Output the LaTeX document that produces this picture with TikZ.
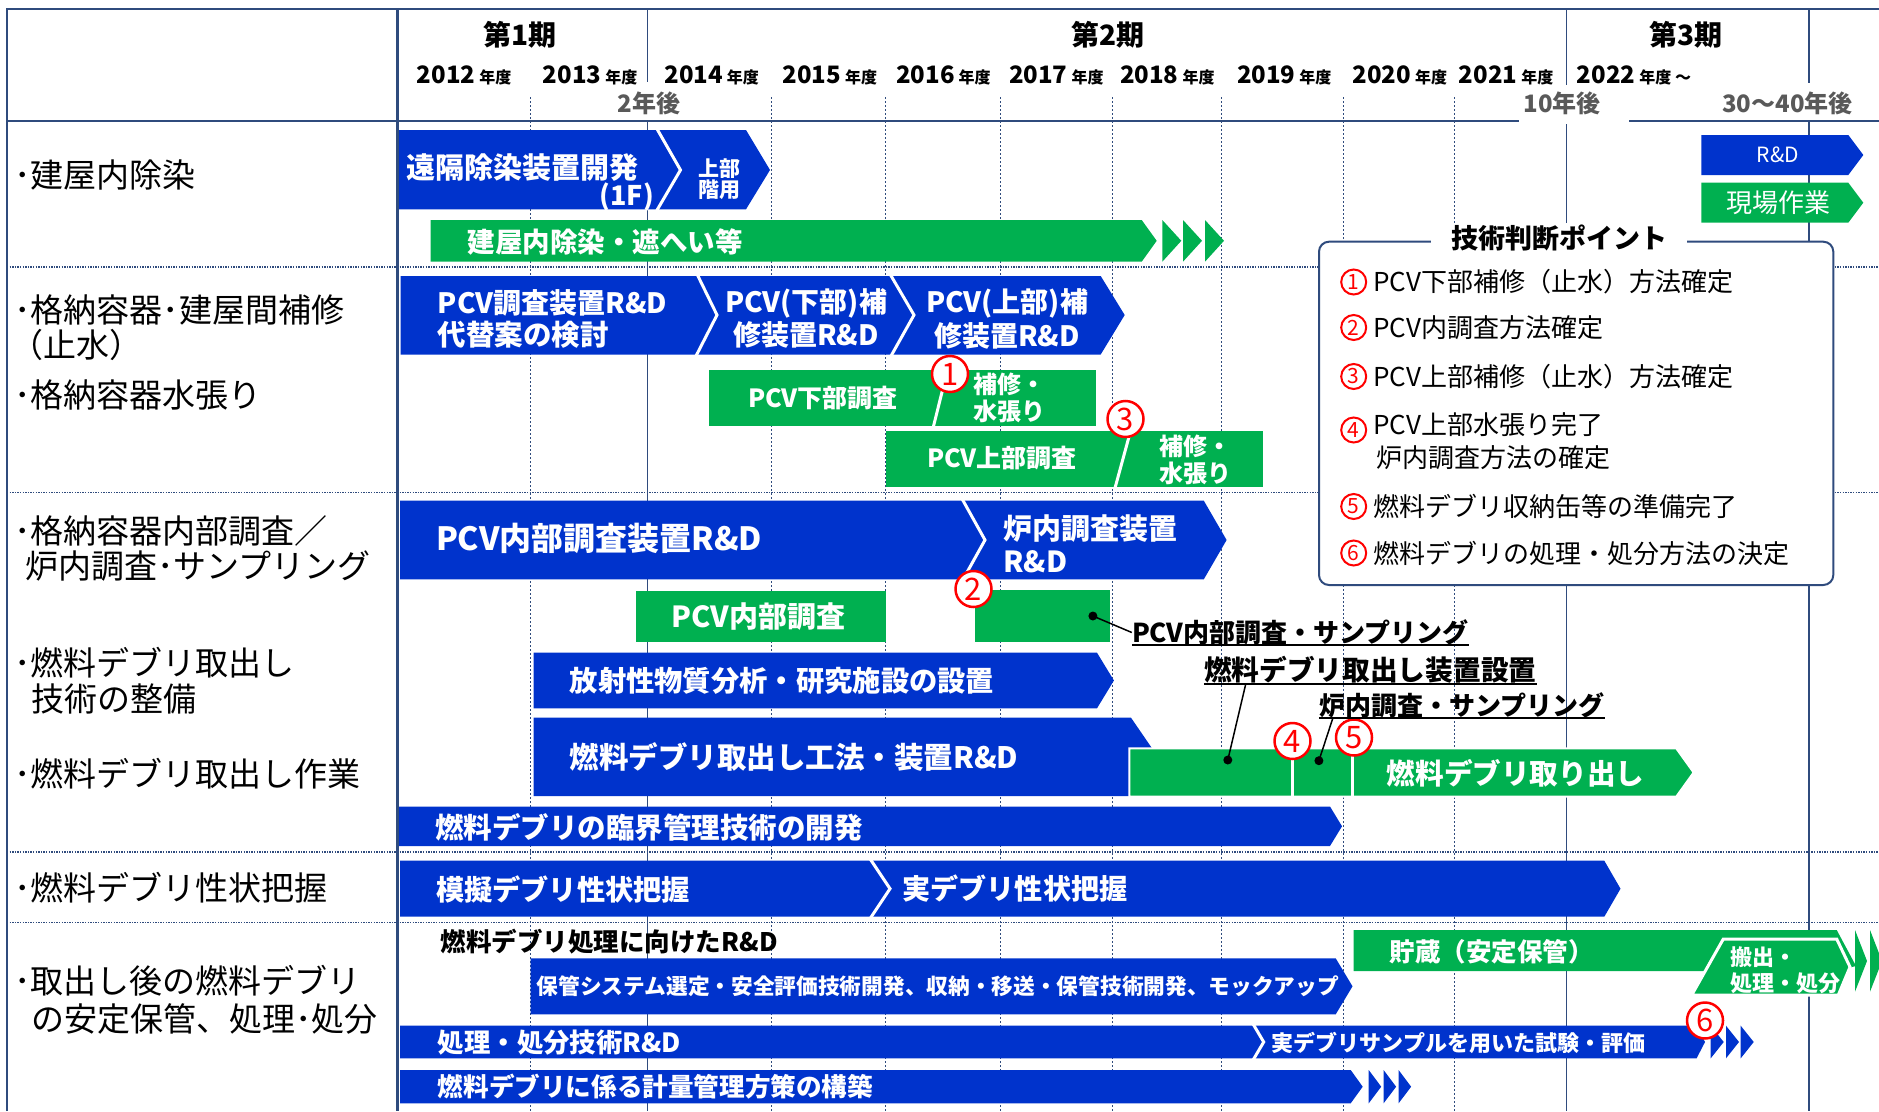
\documentclass[tikz,border=0pt]{standalone}
\usepackage{fontspec}
\setmainfont{Noto Sans CJK JP}
\usetikzlibrary{calc}
\definecolor{cblue}{RGB}{0,51,204}
\definecolor{cgreen}{RGB}{0,176,80}
\definecolor{cframe}{RGB}{47,75,125}
\definecolor{cgray}{RGB}{89,89,89}
\definecolor{cred}{RGB}{255,0,0}
\newcommand\fsz[1]{\fontsize{#1}{#1}\selectfont}
\begin{document}
\begin{tikzpicture}[x=1pt,y=-1pt,
  frame/.style={draw=cframe,line width=2.2pt},
  perline/.style={draw=cframe,line width=1.8pt},
  rowline/.style={draw=cframe,line width=1.3pt,dash pattern=on 1.3pt off 1.3pt},
  gridline/.style={draw=cframe,line width=1pt,dash pattern=on 2pt off 2pt},
  bb/.style={fill=cblue},
  gg/.style={fill=cgreen},
  sepw/.style={draw=white,line width=3pt},
  wt/.style={text=white,inner sep=0pt,font=\bfseries\fsz{#1}},
  wr/.style={text=white,inner sep=0pt,font=\fsz{#1}},
  bt/.style={text=black,inner sep=0pt,font=\bfseries\fsz{#1}},
  lab/.style={text=black,inner sep=0pt,anchor=west,font=\fsz{33}},
  lst/.style={text=black,inner sep=0pt,anchor=west,font=\fsz{26}},
  yr/.style={inner sep=0pt,anchor=west,font=\bfseries},
  per/.style={inner sep=0pt,font=\bfseries\fsz{28}},
  aft/.style={inner sep=0pt,text=cgray,font=\bfseries\fsz{24}},
  circ/.style={circle,draw=cred,line width=2.5pt,fill=white,minimum size=36pt,inner sep=0pt,text=cred,font=\fsz{31}},
  lc/.style={circle,draw=cred,line width=2pt,fill=white,minimum size=25pt,inner sep=0pt,text=cred,font=\fsz{21}},
  lead/.style={draw=black,line width=1.5pt},
  uline/.style={draw=black,line width=2pt},
  dot/.style={fill=black}
]
\useasboundingbox (0,0) rectangle (1879,1111);
% ---------- grid ----------
\foreach \x in {530.6,771.6,885.5,1000,1112.7,1221.8,1343.5,1454.4}
  \draw[gridline] (\x,97) -- (\x,1111);
\foreach \y in {267,492.5,852,922.5}
  \draw[rowline] (7,\y) -- (1879,\y);
\draw[frame] (7,1111) -- (7,9) -- (1879,9);
\draw[frame] (397.5,9) -- (397.5,1111);
\foreach \x in {647.5,1566.5,1809.3}
  \draw[perline] (\x,9) -- (\x,1111);
% header labels
\fill[white] (612,82) rectangle (686,119.6);
\fill[white] (1712,83) rectangle (1864,119.6);
\draw[frame] (7,121) -- (1879,121);
\fill[white] (1518.5,85) rectangle (1629,124);
\node[aft] (a2) at (649,103) {2年後};
\node[aft] (a10) at (1562,103) {10年後};
\node[aft] (a30) at (1787.5,103) {30～40年後};
\node[per] (p1) at (520,35) {第1期};
\node[per] (p2) at (1108,35) {第2期};
\node[per] (p3) at (1686,35) {第3期};
\node[yr] (y12) at (416.7,75) {\fsz{24}2012\,\fsz{16}年度};
\node[yr] (y13) at (542.6,75) {\fsz{24}2013\,\fsz{16}年度};
\node[yr] (y14) at (664.3,75) {\fsz{24}2014\,\fsz{16}年度};
\node[yr] (y15) at (782.4,75) {\fsz{24}2015\,\fsz{16}年度};
\node[yr] (y16) at (896,75) {\fsz{24}2016\,\fsz{16}年度};
\node[yr] (y17) at (1008.9,75) {\fsz{24}2017\,\fsz{16}年度};
\node[yr] (y18) at (1119.9,75) {\fsz{24}2018\,\fsz{16}年度};
\node[yr] (y19) at (1236.8,75) {\fsz{24}2019\,\fsz{16}年度};
\node[yr] (y20) at (1352.5,75) {\fsz{24}2020\,\fsz{16}年度};
\node[yr] (y21) at (1458.6,75) {\fsz{24}2021\,\fsz{16}年度};
\node[yr] (y22) at (1576.7,75) {\fsz{24}2022\,\fsz{16}年度 ～};
% ---------- left column ----------
\node[lab] (l1) at (14,175) {･建屋内除染};
\node[lab] (l2) at (14,310) {･格納容器･建屋間補修};
\node[lab] (l2b) at (10,345) {（止水）};
\node[lab] (l3) at (14,395) {･格納容器水張り};
\node[lab] (l4) at (14,531) {･格納容器内部調査／};
\node[lab] (l4b) at (25,566) {炉内調査･サンプリング};
\node[lab] (l5) at (14,663) {･燃料デブリ取出し};
\node[lab] (l5b) at (31,699) {技術の整備};
\node[lab] (l6) at (14,774) {･燃料デブリ取出し作業};
\node[lab] (l7) at (14,888) {･燃料デブリ性状把握};
\node[lab] (l8) at (14,981) {･取出し後の燃料デブリ};
\node[lab] (l8b) at (31,1019) {の安定保管、処理･処分};
% ---------- row 1 ----------
\fill[bb] (399,130) -- (746,130) -- (770,170) -- (746,209.3) -- (399,209.3) -- cycle;
\draw[sepw] (656.5,128) -- (680.5,170) -- (656.5,211);
\node[wt=29,anchor=west] (t1) at (406,168) {遠隔除染装置開発};
\node[wt=27,anchor=east] (t1b) at (654,197) {(1F)};
\node[wt=21] (t2) at (719,169) {上部};
\node[wt=21] (t2b) at (719,190) {階用};
\fill[gg] (430.5,220) -- (1141.7,220) -- (1156.7,240.8) -- (1141.7,261.7) -- (430.5,261.7) -- cycle;
\foreach \a in {1162.3,1183,1205}
  \fill[gg] (\a,220) -- (\a+19,240.8) -- (\a,261.7) -- cycle;
\node[wt=27.5,anchor=west] (t3) at (467.6,241.7) {建屋内除染・遮へい等};
% legend
\fill[bb] (1701.4,135) -- (1848.3,135) -- (1863.3,155) -- (1848.3,175) -- (1701.4,175) -- cycle;
\node[wr=21] (r1) at (1778,155) {R\&D};
\fill[gg] (1701.4,182.7) -- (1848.3,182.7) -- (1863.3,202.7) -- (1848.3,222.7) -- (1701.4,222.7) -- cycle;
\node[wr=26] (r2) at (1778,203) {現場作業};
% ---------- judgement box ----------
\draw[draw=cframe,line width=2pt,fill=white,rounded corners=10pt] (1319,241.7) rectangle (1833.3,585);
\node[bt=27,fill=white,inner xsep=20pt,inner ysep=2pt] (jt) at (1559,238) {技術判断ポイント};
\node[lc] (k1) at (1353.7,282) {1};
\node[lst] (k1t) at (1373,282) {PCV下部補修（止水）方法確定};
\node[lc] (k2) at (1353.7,327.5) {2};
\node[lst] (k2t) at (1373,327.5) {PCV内調査方法確定};
\node[lc] (k3) at (1353.7,376.5) {3};
\node[lst] (k3t) at (1373,376.5) {PCV上部補修（止水）方法確定};
\node[lc] (k4) at (1353.7,430) {4};
\node[lst] (k4t) at (1373,425) {PCV上部水張り完了};
\node[lst] (k4b) at (1376,458) {炉内調査方法の確定};
\node[lc] (k5) at (1353.7,506.5) {5};
\node[lst] (k5t) at (1373,506.5) {燃料デブリ収納缶等の準備完了};
\node[lc] (k6) at (1353.7,553) {6};
\node[lst] (k6t) at (1373,553) {燃料デブリの処理・処分方法の決定};
% ---------- row 2 ----------
\fill[bb] (400.5,276) -- (1100.7,276) -- (1124.7,315) -- (1100.7,354.5) -- (400.5,354.5) -- cycle;
\draw[sepw] (697,274) -- (717,315) -- (696,356);
\draw[sepw] (890,274) -- (914,315) -- (891,356);
\node[wt=28,anchor=west] (t4) at (437.6,303) {PCV調査装置R\&D};
\node[wt=28.5,anchor=west] (t4b) at (437.6,335) {代替案の検討};
\node[wt=28] (t5) at (806,303) {PCV(下部)補};
\node[wt=28] (t5b) at (806,335) {修装置R\&D};
\node[wt=28] (t6) at (1007,303) {PCV(上部)補};
\node[wt=28] (t6b) at (1007,336) {修装置R\&D};
\fill[gg] (709.2,369.5) rectangle (1096,425.5);
\draw[sepw] (947,372) -- (933.3,427);
\node[wt=25] (t7) at (823,398) {PCV下部調査};
\node[wt=24,anchor=west] (t7a) at (973,384) {補修・};
\node[wt=24,anchor=west] (t7b) at (973,411.7) {水張り};
\fill[gg] (886,430.7) rectangle (1262.5,486.7);
\draw[sepw] (1130,433) -- (1115,488);
\node[wt=25] (t8) at (1002,458.5) {PCV上部調査};
\node[wt=24,anchor=west] (t8a) at (1158.8,446.7) {補修・};
\node[wt=24,anchor=west] (t8b) at (1158.8,473.3) {水張り};
\node[circ] (c1) at (950,374) {1};
\node[circ] (c3) at (1125.5,419) {3};
% ---------- row 3 ----------
\fill[bb] (400,500.7) -- (1203.8,500.7) -- (1226.6,540) -- (1203.8,579.3) -- (400,579.3) -- cycle;
\draw[sepw] (962,498.7) -- (985,540) -- (962,581.3);
\node[wt=32,anchor=west] (t9) at (435.8,538) {PCV内部調査装置R\&D};
\node[wt=29,anchor=west] (t10) at (1003,528.3) {炉内調査装置};
\node[wt=29,anchor=west] (t10b) at (1003,561.7) {R\&D};
\fill[gg] (635.5,591) rectangle (885.5,641.7);
\node[wt=29] (t11) at (758.4,616.7) {PCV内部調査};
\fill[gg] (974.8,590) rectangle (1109.7,641.7);
\node[circ] (c2) at (973.5,589) {2};
\coordinate (d1) at (1092.9,616);
\fill[dot] (d1) circle (4.5);
\node[bt=26,anchor=west] (u1) at (1131.8,632.5) {PCV内部調査・サンプリング};
\draw[uline] (u1.south west) -- (u1.south east);
\draw[lead] (d1) -- (u1.west);
\fill[bb] (533.6,652.7) -- (1097,652.7) -- (1113.9,680.5) -- (1097,708.3) -- (533.6,708.3) -- cycle;
\node[wt=28.3,anchor=west] (t12) at (569.5,680.5) {放射性物質分析・研究施設の設置};
\fill[bb] (533.6,717.7) -- (1131,717.7) -- (1158,757) -- (1131,796) -- (533.6,796) -- cycle;
\node[wt=29.5,anchor=west] (t13) at (569.5,756.7) {燃料デブリ取出し工法・装置R\&D};
\filldraw[gg,draw=white,line width=2pt] (1129.4,748.3) -- (1676.2,748.3) -- (1693.6,772.5) -- (1676.2,796.7) -- (1129.4,796.7) -- cycle;
\draw[sepw] (1292.5,748) -- (1292.5,797);
\draw[sepw] (1352.5,748) -- (1352.5,797);
\node[wt=28.6,anchor=west] (t14) at (1386.6,773.3) {燃料デブリ取り出し};
\node[circ] (c4) at (1292.5,741) {4};
\node[circ] (c5) at (1354,737.5) {5};
\coordinate (d2) at (1227.8,760);
\coordinate (d3) at (1318.9,760.7);
\fill[dot] (d2) circle (4.5);
\fill[dot] (d3) circle (4.5);
\node[bt=27.7,anchor=west] (u2) at (1203.8,670) {燃料デブリ取出し装置設置};
\draw[uline] (u2.south west) -- (u2.south east);
\draw[lead] (d2) -- ($(u2.south west)+(42,0)$);
\node[bt=26,anchor=west] (u3) at (1318.9,705) {炉内調査・サンプリング};
\draw[uline] (u3.south west) -- (u3.south east);
\draw[lead] (d3) -- ($(u3.south west)+(14,0)$);
\fill[bb] (399,806.5) -- (1330,806.5) -- (1342,826.3) -- (1330,846) -- (399,846) -- cycle;
\node[wt=28.5,anchor=west] (t15) at (435,827) {燃料デブリの臨界管理技術の開発};
% ---------- row 4 ----------
\fill[bb] (400,860.7) -- (1604.3,860.7) -- (1620.5,888.7) -- (1604.3,916.7) -- (400,916.7) -- cycle;
\draw[sepw] (870,858.7) -- (890,888.7) -- (870,918.7);
\node[wt=28.2,anchor=west] (t16) at (435.8,889) {模擬デブリ性状把握};
\node[wt=28.1,anchor=west] (t17) at (902.3,889) {実デブリ性状把握};
% ---------- row 5 ----------
\node[bt=25.5,anchor=west] (t18) at (440.6,941.7) {燃料デブリ処理に向けたR\&D};
\fill[bb] (530.6,958.3) -- (1335.7,958.3) -- (1352.5,986.3) -- (1335.7,1014.3) -- (530.6,1014.3) -- cycle;
\node[wt=21.7,anchor=west] (t19) at (536.6,986.7) {保管システム選定・安全評価技術開発、収納・移送・保管技術開発、モックアップ};
\fill[gg] (1353.7,930) -- (1836.7,930) -- (1856,966) -- (1836.7,971) -- (1353.7,971) -- cycle;
\filldraw[gg,draw=white,line width=3pt] (1723.3,939) -- (1836.7,939) -- (1850,967) -- (1838.3,995) -- (1691.7,995) -- cycle;
\foreach \a in {1855,1870}
  \fill[gg] (\a,930) -- (\a+12,961) -- (\a,991.7) -- cycle;
\node[wt=25.5,anchor=west] (t20) at (1389.6,951.7) {貯蔵（安定保管）};
\node[wt=22,anchor=west] (t21) at (1730,956.7) {搬出・};
\node[wt=22,anchor=west] (t21b) at (1730,983.3) {処理・処分};
\fill[bb] (400,1025.7) -- (1696.6,1025.7) -- (1705,1042) -- (1696.6,1058.3) -- (400,1058.3) -- cycle;
\draw[sepw] (1252.9,1023.7) -- (1263.7,1042) -- (1252.9,1060.3);
\foreach \a in {1710.7,1726,1740.7}
  \fill[bb] (\a,1025.7) -- (\a+13,1042) -- (\a,1058.3) -- cycle;
\node[wt=26.4,anchor=west] (t22) at (437.6,1043) {処理・処分技術R\&D};
\node[wt=22,anchor=west] (t23) at (1271.5,1043) {実デブリサンプルを用いた試験・評価};
\node[circ] (c6) at (1705,1020.5) {6};
\fill[bb] (400,1070) -- (1350.7,1070) -- (1362.7,1086.7) -- (1350.7,1103.3) -- (400,1103.3) -- cycle;
\foreach \a in {1368.7,1383.6,1398.6}
  \fill[bb] (\a,1070) -- (\a+12.5,1086.7) -- (\a,1103.3) -- cycle;
\node[wt=25.6,anchor=west] (t24) at (437.6,1087) {燃料デブリに係る計量管理方策の構築};
\end{tikzpicture}
\end{document}
